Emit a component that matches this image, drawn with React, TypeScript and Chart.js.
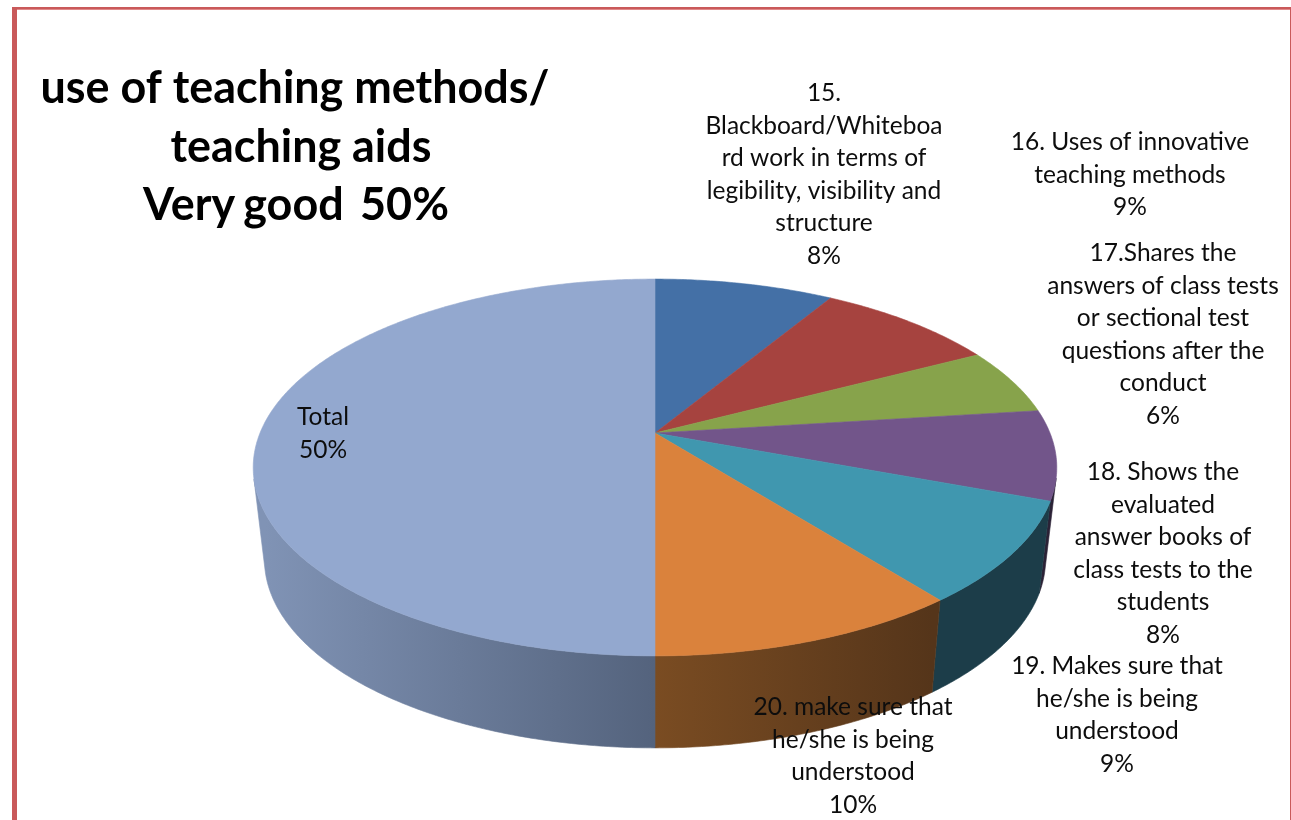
import React, { useEffect, useRef } from "react";
import { Chart, registerables } from "chart.js";

Chart.register(...registerables);

const categories = [
  ["15.", "Blackboard/Whiteboa", "rd work in terms of", "legibility, visibility and", "structure"],
  ["16. Uses of innovative", "teaching methods"],
  ["17.Shares the", "answers of class tests", "or sectional test", "questions after the", "conduct"],
  ["18. Shows the", "evaluated", "answer books of", "class tests to the", "students"],
  ["19. Makes sure that", "he/she is being", "understood"],
  ["20. make sure that", "he/she is being", "understood"],
  ["Total"],
];
const sliceValues = [8.6, 8.7, 5.7, 7.7, 8.7, 10.6, 50];
const percentLabels = ["8%", "9%", "6%", "8%", "9%", "10%", "50%"];
const titleLines = ["use of teaching methods/", "teaching aids", "Very good  50%"];

const topColors = ["#4470A6", "#A6433F", "#87A34B", "#72558A", "#4097AF", "#DA823C", "#93A8CF"];
const sideLeftColors = ["#2A4465", "#652926", "#52632D", "#2B2236", "#1C3D49", "#7A4C22", "#8093B5"];
const sideRightColors = ["#2A4465", "#652926", "#52632D", "#2B2236", "#1C3D49", "#55351A", "#54637D"];

const labelCenterX = [824, 1130, 1163, 1163, 1117, 853, 323];
const labelFirstLineY = [93, 142, 253, 472, 666, 707, 417];
const titleCenterX = [295, 301, 296];
const titleWordSpacing = ["0px", "0px", "-2.7px"];

const SQUASH = 0.461;
const PERSPECTIVE = -0.183;
const DEPTH = 92;
const BOTTOM_SCALE = 0.972;
const LINE_H = 32.6;
const FONT = "Lato, 'Open Sans', sans-serif";

type P = { x: number; y: number };

function project(cx: number, cy: number, r: number, angle: number): P {
  const u = Math.cos(angle);
  const v = Math.sin(angle);
  const d = 1 + PERSPECTIVE * v;
  return { x: cx + (r * u) / d, y: cy + (r * SQUASH * v) / d };
}

function arcPoints(cx: number, cy: number, r: number, a0: number, a1: number): P[] {
  const n = Math.max(2, Math.ceil((a1 - a0) / 0.01));
  const pts: P[] = [];
  for (let i = 0; i <= n; i++) pts.push(project(cx, cy, r, a0 + ((a1 - a0) * i) / n));
  return pts;
}

const pie3d = {
  id: "pie3d",
  beforeDraw(chart: any) {
    const ctx = chart.ctx;
    ctx.save();
    ctx.fillStyle = "#ffffff";
    ctx.fillRect(0, 0, chart.width, chart.height);
    ctx.fillStyle = "#C9595A";
    ctx.fillRect(12, 7, 5, chart.height - 7);
    ctx.fillRect(12, 7, chart.width - 12, 2);
    ctx.fillStyle = "#E08A8A";
    ctx.fillRect(17, 9, chart.width - 17, 1);
    ctx.fillStyle = "#C9595A";
    ctx.fillRect(chart.width - 1, 9, 1, chart.height - 9);
    ctx.restore();
  },
  beforeDatasetsDraw(chart: any) {
    const ctx = chart.ctx;
    const arcs = chart.getDatasetMeta(0).data;
    ctx.save();
    ctx.lineWidth = 0.6;
    arcs.forEach((arc: any, i: number) => {
      const pts = arcPoints(arc.x, arc.y, arc.outerRadius, arc.startAngle, arc.endAngle);
      const low = pts.map((p) => ({
        x: arc.x + (p.x - arc.x) * BOTTOM_SCALE,
        y: p.y + DEPTH,
      }));
      // keep only the stretch of the rim that faces the viewer
      let first = -1;
      let last = -1;
      for (let k = 0; k + 1 < pts.length; k++) {
        const dx = pts[k + 1].x - pts[k].x;
        const dy = pts[k + 1].y - pts[k].y;
        const cross = dx * (low[k].y - pts[k].y) - dy * (low[k].x - pts[k].x);
        if (cross < 0) {
          if (first < 0) first = k;
          last = k + 1;
        }
      }
      if (first < 0) return;
      const topRim = pts.slice(first, last + 1);
      const lowRim = low.slice(first, last + 1);
      const xs = lowRim.map((p) => p.x);
      const g = ctx.createLinearGradient(Math.min(...xs), 0, Math.max(...xs), 0);
      g.addColorStop(0, sideLeftColors[i]);
      g.addColorStop(1, sideRightColors[i]);
      ctx.fillStyle = g;
      ctx.strokeStyle = g;
      ctx.beginPath();
      topRim.forEach((p, k) => (k ? ctx.lineTo(p.x, p.y) : ctx.moveTo(p.x, p.y)));
      lowRim.reverse().forEach((p) => ctx.lineTo(p.x, p.y));
      ctx.closePath();
      ctx.fill();
      ctx.stroke();
    });
    arcs.forEach((arc: any, i: number) => {
      const pts = arcPoints(arc.x, arc.y, arc.outerRadius, arc.startAngle, arc.endAngle);
      ctx.fillStyle = topColors[i];
      ctx.strokeStyle = topColors[i];
      ctx.beginPath();
      ctx.moveTo(arc.x, arc.y);
      pts.forEach((p) => ctx.lineTo(p.x, p.y));
      ctx.closePath();
      ctx.fill();
      ctx.stroke();
    });
    ctx.restore();
    return false;
  },
  afterDraw(chart: any) {
    const ctx = chart.ctx;
    ctx.save();
    ctx.textAlign = "center";
    ctx.textBaseline = "middle";
    ctx.fillStyle = "#0d0d0d";
    ctx.font = `24.5px ${FONT}`;
    categories.forEach((lines, i) => {
      [...lines, percentLabels[i]].forEach((t, k) => {
        ctx.fillText(t, labelCenterX[i], labelFirstLineY[i] + k * LINE_H);
      });
    });
    ctx.fillStyle = "#000000";
    ctx.font = `bold 44.9px ${FONT}`;
    ctx.textBaseline = "alphabetic";
    titleLines.forEach((t, k) => {
      ctx.wordSpacing = titleWordSpacing[k];
      ctx.fillText(t, titleCenterX[k], 103 + k * 58.7);
    });
    ctx.restore();
  },
};

export default function App() {
  const ref = useRef<HTMLCanvasElement>(null);
  useEffect(() => {
    const chart = new Chart(ref.current as HTMLCanvasElement, {
      type: "pie",
      data: {
        labels: categories.map((c) => c.join(" ")),
        datasets: [{ data: sliceValues, backgroundColor: topColors, borderWidth: 0, radius: 395 } as any],
      },
      options: {
        responsive: false,
        animation: false,
        layout: { padding: { left: 19, top: 46 } },
        plugins: { legend: { display: false }, tooltip: { enabled: false } },
      },
      plugins: [pie3d as any],
    });
    return () => chart.destroy();
  }, []);
  return (
    <canvas
      ref={ref}
      width={1291}
      height={820}
      style={{ position: "fixed", left: 0, top: 0, width: 1291, height: 820 }}
    />
  );
}
